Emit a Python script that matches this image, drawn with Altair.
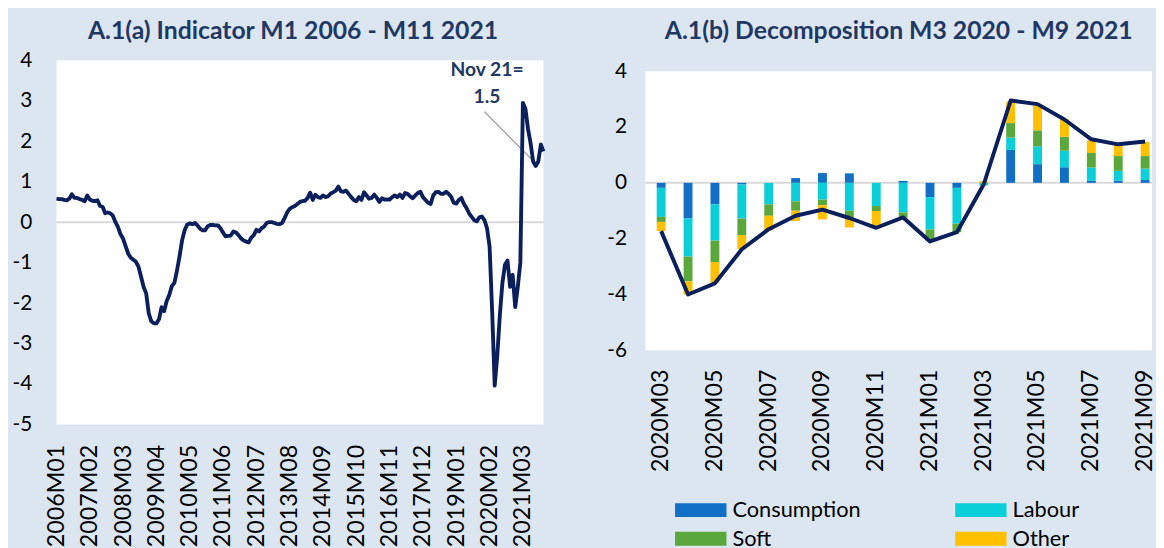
import altair as alt
import pandas as pd

# ---------------- data ----------------
MONTHS = [f"{y}M{m:02d}" for y in range(2006, 2022) for m in range(1, 13)][:191]

INDICATOR = [
    0.58, 0.57, 0.57, 0.55, 0.54, 0.58, 0.69, 0.60, 0.60, 0.57,
    0.55, 0.52, 0.66, 0.56, 0.53, 0.52, 0.54, 0.40, 0.38, 0.22,
    0.24, 0.22, 0.16, 0.00, -0.12, -0.30, -0.41, -0.60, -0.78, -0.88,
    -0.93, -0.98, -1.10, -1.35, -1.60, -1.76, -2.25, -2.45, -2.50, -2.50,
    -2.40, -2.10, -2.20, -1.95, -1.80, -1.58, -1.50, -1.20, -0.85, -0.45,
    -0.20, -0.06, -0.03, -0.05, -0.02, -0.08, -0.16, -0.20, -0.20, -0.10,
    -0.07, -0.07, -0.08, -0.08, -0.15, -0.26, -0.35, -0.34, -0.33, -0.23,
    -0.25, -0.32, -0.40, -0.45, -0.48, -0.50, -0.38, -0.32, -0.19, -0.23,
    -0.15, -0.11, -0.02, 0.00, 0.00, -0.02, -0.04, -0.05, -0.02, 0.10,
    0.24, 0.33, 0.37, 0.40, 0.45, 0.50, 0.52, 0.53, 0.60, 0.73,
    0.55, 0.68, 0.62, 0.60, 0.66, 0.62, 0.64, 0.71, 0.74, 0.78,
    0.88, 0.76, 0.75, 0.78, 0.70, 0.62, 0.55, 0.52, 0.62, 0.55,
    0.74, 0.66, 0.58, 0.60, 0.68, 0.60, 0.50, 0.59, 0.56, 0.56,
    0.56, 0.62, 0.66, 0.62, 0.68, 0.60, 0.72, 0.70, 0.64, 0.59,
    0.66, 0.72, 0.75, 0.62, 0.55, 0.48, 0.45, 0.66, 0.74, 0.75,
    0.70, 0.70, 0.75, 0.70, 0.63, 0.48, 0.46, 0.55, 0.60, 0.45,
    0.35, 0.22, 0.13, 0.05, 0.02, 0.12, 0.14, 0.05, -0.15, -0.60,
    -2.20, -4.04, -3.30, -2.30, -1.50, -1.05, -0.95, -1.60, -1.30, -2.10,
    -1.60, -1.00, 2.95, 2.80, 2.30, 1.95, 1.50, 1.39, 1.50, 1.92,
    1.75,
]

LEFT_TICKS = ["2006M01", "2007M02", "2008M03", "2009M04", "2010M05",
              "2011M06", "2012M07", "2013M08", "2014M09", "2015M10",
              "2016M11", "2017M12", "2019M01", "2020M02", "2021M03"]

DEC_MONTHS = ["2020M03", "2020M04", "2020M05", "2020M06", "2020M07",
              "2020M08", "2020M09", "2020M10", "2020M11", "2020M12",
              "2021M01", "2021M02", "2021M03", "2021M04", "2021M05",
              "2021M06", "2021M07", "2021M08", "2021M09"]
CONSUMPTION = [-0.18, -1.28, -0.77, -0.06, 0.00, 0.17, 0.35, 0.34, 0.00, 0.07,
               -0.51, -0.18, 0.00, 1.18, 0.67, 0.56, 0.07, 0.08, 0.10]
LABOUR = [-1.04, -1.36, -1.30, -1.22, -0.77, -0.66, -0.60, -1.00, -0.83, -1.06,
          -1.16, -1.28, -0.09, 0.44, 0.64, 0.59, 0.48, 0.35, 0.41]
SOFT = [-0.18, -0.89, -0.77, -0.59, -0.41, -0.34, -0.20, -0.27, -0.18, -0.19,
        -0.34, -0.30, 0.00, 0.52, 0.57, 0.50, 0.52, 0.53, 0.45]
OTHER = [-0.33, -0.47, -0.74, -0.51, -0.51, -0.37, -0.51, -0.33, -0.60, -0.02,
         -0.07, -0.01, 0.06, 0.78, 0.90, 0.63, 0.45, 0.39, 0.51]
TOTAL = [-1.73, -4.00, -3.60, -2.38, -1.66, -1.18, -0.96, -1.26, -1.61, -1.24,
         -2.10, -1.77, -0.05, 2.95, 2.82, 2.27, 1.56, 1.38, 1.48]
RIGHT_TICKS = ["2020M03", "2020M05", "2020M07", "2020M09", "2020M11",
               "2021M01", "2021M03", "2021M05", "2021M07", "2021M09"]

COMPONENTS = ["Consumption", "Labour", "Soft", "Other"]
COLORS = ["#1170C6", "#0BCFD8", "#5AA83B", "#FFC000"]

NAVY = "#0B1F5C"
TITLE_COLOR = "#1F3864"
FONT = "Lato"

# ---------------- left panel ----------------
df_left = pd.DataFrame({"month": MONTHS, "value": INDICATOR})
x_left = alt.X(
    "month:O", sort=None, title=None,
    scale=alt.Scale(type="point", padding=0),
    axis=alt.Axis(values=LEFT_TICKS, labelAngle=-90, labelFontSize=23.5,
                  labelFont=FONT, labelColor="black", labelPadding=20,
                  ticks=False, domain=False, grid=False),
)
y_left_scale = alt.Scale(domain=[-5, 4], nice=False, zero=False)
y_left = alt.Y(
    "value:Q", title=None, scale=y_left_scale,
    axis=alt.Axis(values=list(range(-5, 5)), labelExpr="toString(datum.value)",
                  labelFontSize=21, labelFont=FONT, labelColor="black",
                  labelPadding=25, ticks=False, domain=False, grid=False),
)

zero_left = alt.Chart(pd.DataFrame({"y": [0]})).mark_rule(
    color="#D9D9D9", strokeWidth=2
).encode(y=alt.Y("y:Q", scale=y_left_scale))

line_left = alt.Chart(df_left).mark_line(
    color=NAVY, strokeWidth=3.9, strokeJoin="round"
).encode(x=x_left, y=y_left)

ANN = pd.DataFrame({
    "x": ["2019M12"], "x2": ["2021M08"], "y": [2.73], "y2": [1.45],
})
leader = alt.Chart(ANN).mark_rule(color="#A6A6A6", strokeWidth=1.5).encode(
    x=alt.X("x:O"), x2="x2", y=alt.Y("y:Q"), y2="y2"
)
ANN_TEXT = pd.DataFrame({"x": ["2020M01", "2020M01"], "y": [3.77, 3.1],
                         "label": ["Nov 21=", "1.5"]})
ann_text = alt.Chart(ANN_TEXT).mark_text(
    font=FONT, fontSize=19.5, fontWeight="bold", color=TITLE_COLOR,
    baseline="middle", align="center"
).encode(x=alt.X("x:O"), y=alt.Y("y:Q"), text="label:N")

left = alt.layer(zero_left, leader, line_left, ann_text).properties(
    width=492, height=368,
    view=alt.ViewBackground(fill="white", strokeWidth=0),
    title=alt.TitleParams("A.1(a) Indicator M1 2006 - M11 2021", font=FONT,
                          fontSize=25, fontWeight="bold", color=TITLE_COLOR,
                          anchor="middle", dx=-7, offset=-19,
                          baseline="bottom"),
)

# ---------------- right panel ----------------
rows = []
for k, comp in enumerate(COMPONENTS):
    vals = [CONSUMPTION, LABOUR, SOFT, OTHER][k]
    for m, v in zip(DEC_MONTHS, vals):
        rows.append({"month": m, "component": comp, "value": v, "order": k})
df_bars = pd.DataFrame(rows)
df_total = pd.DataFrame({"month": DEC_MONTHS, "total": TOTAL})

R_W, R_H, R_TOP = 512, 293, 11

x_right = alt.X(
    "month:N", sort=DEC_MONTHS, title=None,
    scale=alt.Scale(paddingInner=0.669, paddingOuter=0.258, align=0.82),
    axis=alt.Axis(values=RIGHT_TICKS, labelAngle=-90, labelFontSize=23.5,
                  labelFont=FONT, labelColor="black", labelPadding=19,
                  ticks=False, domain=False, grid=False),
)
y_right_scale = alt.Scale(domain=[-6, 4], nice=False, zero=False,
                          range=[R_H, R_TOP])
y_right_axis = alt.Axis(values=[-6, -4, -2, 0, 2, 4],
                        labelExpr="toString(datum.value)", labelFontSize=21,
                        labelFont=FONT, labelColor="black", labelPadding=19,
                        ticks=False, domain=False, grid=False)

plot_bg = alt.Chart(pd.DataFrame({"top": [4], "bottom": [-6]})).mark_rect(
    color="white"
).encode(
    x=alt.value(0), x2=alt.value(R_W),
    y=alt.Y("top:Q", scale=y_right_scale, axis=y_right_axis, title=None),
    y2="bottom:Q",
)

bars = alt.Chart(df_bars).mark_bar().encode(
    x=x_right,
    y=alt.Y("value:Q", stack="zero", title=None, scale=y_right_scale,
            axis=y_right_axis),
    color=alt.Color(
        "component:N",
        scale=alt.Scale(domain=COMPONENTS, range=COLORS),
        legend=alt.Legend(
            title=None, orient="none", legendX=625, legendY=440, columns=2,
            direction="horizontal",
            symbolType="M-1,-0.27H1V0.27H-1Z", symbolSize=2704,
            symbolStrokeWidth=0, labelFontSize=22, labelFont=FONT,
            labelColor="black", labelOffset=6, columnPadding=95,
            rowPadding=0, clipHeight=29, padding=0, symbolOpacity=1,
        ),
    ),
    order=alt.Order("order:Q"),
)

zero_right = alt.Chart(pd.DataFrame({"y": [0]})).mark_rule(
    color="#D9D9D9", strokeWidth=2
).encode(y=alt.Y("y:Q", scale=y_right_scale))

line_right = alt.Chart(df_total).mark_line(
    color=NAVY, strokeWidth=4, strokeJoin="round"
).encode(x=x_right, y=alt.Y("total:Q", scale=y_right_scale))

right = alt.layer(plot_bg, zero_right, bars, line_right).properties(
    width=R_W, height=R_H,
    title=alt.TitleParams("A.1(b) Decomposition M3 2020 - M9 2021", font=FONT,
                          fontSize=25, fontWeight="bold", color=TITLE_COLOR,
                          anchor="middle", dx=0, offset=-8,
                          baseline="bottom"),
)

chart = alt.hconcat(left, right, spacing=62).properties(
    background="#DCE6F1",
    padding={"left": 4, "top": 8, "right": 0, "bottom": 0},
).configure_view(strokeWidth=0)

chart.save("out.html", embed_options={"renderer": "svg", "actions": False})
